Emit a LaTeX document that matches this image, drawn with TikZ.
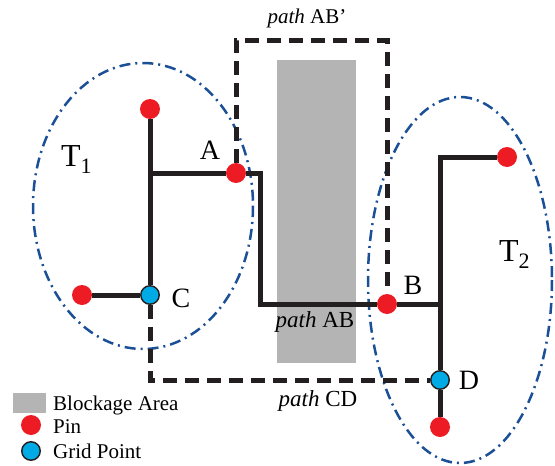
\documentclass[tikz,border=0pt]{standalone}
\usepackage{fontspec}
\setmainfont{Liberation Serif}
\usetikzlibrary{calc}
\definecolor{pinred}{RGB}{237,28,36}
\definecolor{gridcyan}{RGB}{0,170,228}
\definecolor{blockgray}{RGB}{180,180,180}
\definecolor{wireblack}{RGB}{35,31,32}
\definecolor{treeblue}{RGB}{28,80,150}

\begin{document}
\begin{tikzpicture}[x=1pt,y=-1pt,
  pinpt/.style={circle,fill=pinred,inner sep=0pt,minimum size=20pt},
  gridpt/.style={circle,fill=gridcyan,draw=wireblack,line width=1.4pt,inner sep=0pt,minimum size=18.5pt},
  wire/.style={draw=wireblack,line width=5pt},
  route/.style={draw=wireblack,line width=5pt,dash pattern=on 14pt off 8pt},
  treeline/.style={draw=treeblue,line width=2.5pt,dash pattern=on 11pt off 5pt on 2pt off 5pt},
  lab/.style={font=\fontsize{28}{30}\selectfont,inner sep=0pt,anchor=base},
  tlab/.style={font=\fontsize{32}{34}\selectfont,inner sep=0pt,anchor=base west},
  pathlab/.style={font=\fontsize{23}{25}\selectfont,inner sep=0pt,anchor=base},
  leglab/.style={font=\fontsize{21}{23}\selectfont,inner sep=0pt,anchor=base west}]
  \useasboundingbox (0,0) rectangle (555,466);
  \fill[blockgray] (277,60) rectangle (356,363);
  \draw[treeline] (143,206) ellipse [x radius=110,y radius=143];
  \draw[treeline] (460,280) ellipse [x radius=92,y radius=183];

  \node[pinpt] (p1) at (150,109) {};
  \node[pinpt] (p2) at (82,295) {};
  \node[pinpt] (A) at (236,173) {};
  \node[gridpt] (C) at (150,295) {};
  \node[pinpt] (B) at (387,304) {};
  \node[pinpt] (p3) at (507,157) {};
  \node[gridpt] (D) at (440,380) {};
  \node[pinpt] (p4) at (440,427) {};
  \coordinate (jA) at (150,173);
  \coordinate (kA) at (260,173);
  \coordinate (jB) at (440,304);
  \coordinate (ab1) at (236,40);
  \coordinate (ab2) at (387,40);

  \draw[route] (A) -- (ab1) -- (ab2) -- (B);
  \draw[route] (C) |- (D);
  \draw[wire] (p1) -- (C);
  \draw[wire] (p2) -- (C);
  \draw[wire] (jA) -- (A);
  \draw[wire] (A) -- (kA) |- (B);
  \draw[wire] (B) -- (jB);
  \draw[wire] (p3) -| (D);
  \draw[wire] (D) -- (p4);

  \node[lab] (lA) at (210,159) {A};
  \node[lab] (lB) at (413,294) {B};
  \node[lab] (lC) at (181,307) {C};
  \node[lab] (lD) at (469,389) {D};
  \node[tlab] (lT1) at (61,166) {T\raisebox{-7pt}{\fontsize{22}{24}\selectfont 1}};
  \node[tlab] (lT2) at (499,261) {T\raisebox{-7pt}{\fontsize{22}{24}\selectfont 2}};
  \node[pathlab,font=\fontsize{21}{23}\selectfont] (lAB2) at (307,23) {\textit{path} AB'};
  \node[pathlab] (lAB) at (315,327) {\textit{path} AB};
  \node[pathlab] (lCD) at (318,406) {\textit{path} CD};

  \node[fill=blockgray,inner sep=0pt,minimum width=33pt,minimum height=20pt] (kb) at (29.5,403) {};
  \node[pinpt] (kp) at (31,425) {};
  \node[gridpt] (kg) at (31,451) {};
  \foreach \n/\y/\t in {tb/410/Blockage Area,tp/433/Pin,tg/458/Grid Point}
    \node[leglab] (\n) at (53,\y) {\t};
\end{tikzpicture}
\end{document}
